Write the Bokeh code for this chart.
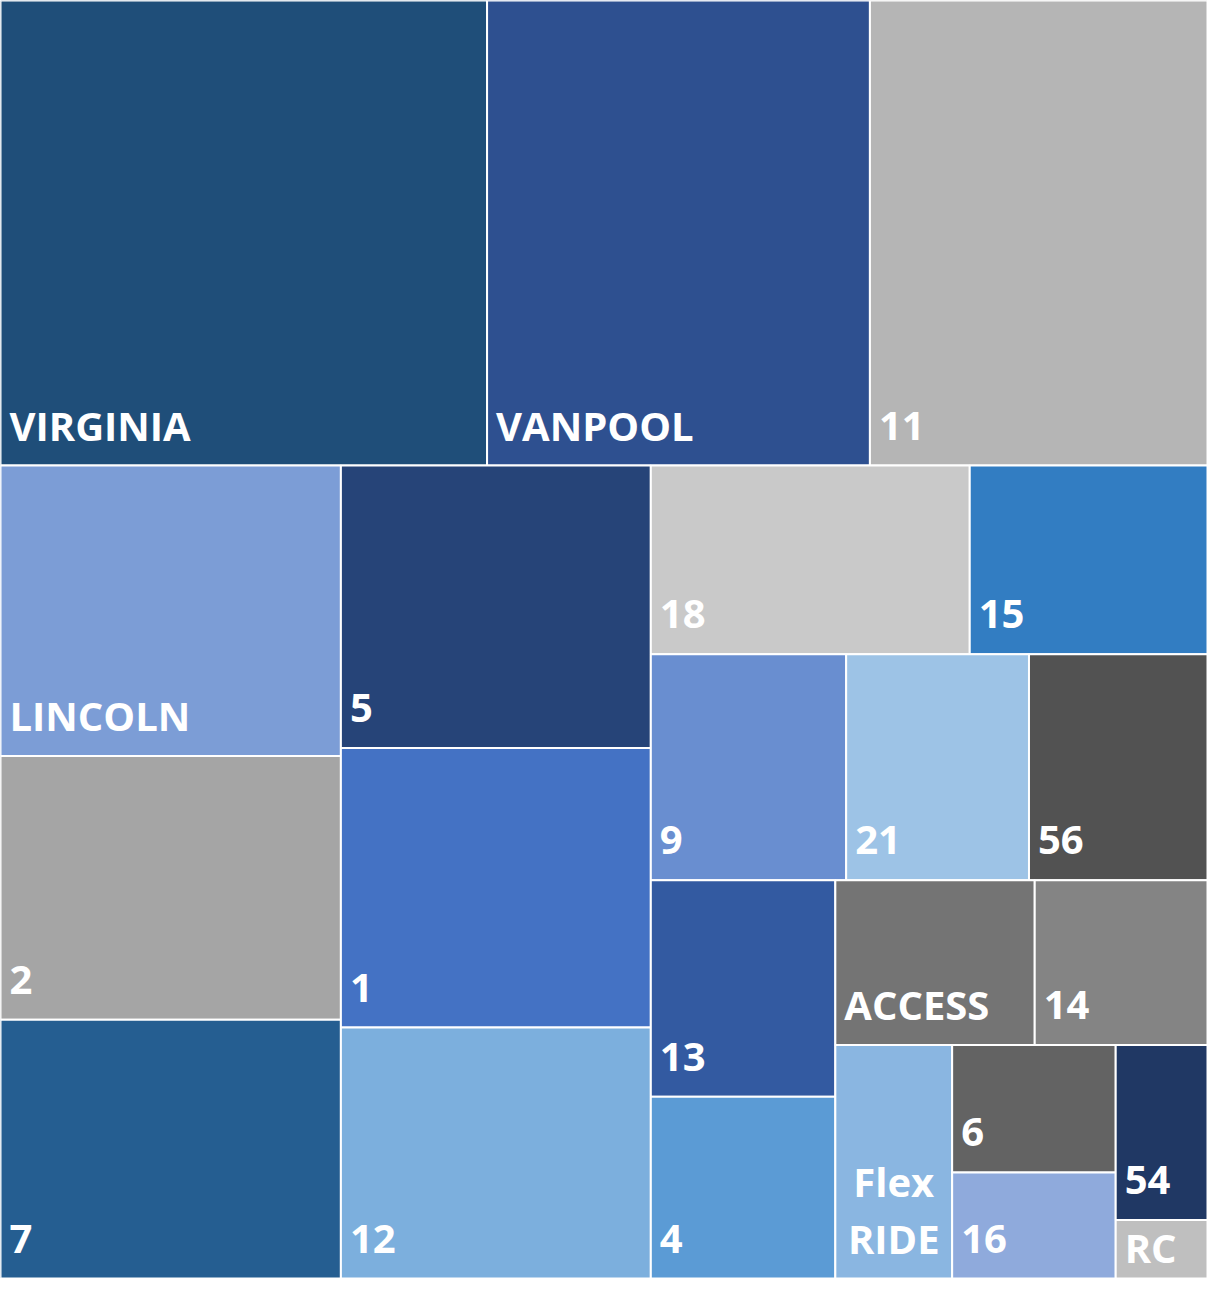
from bokeh.plotting import figure
from bokeh.models import Range1d, ColumnDataSource
from bokeh.embed import file_html
from bokeh.resources import INLINE
from bokeh.core.properties import value

# ---- data (ordered largest to smallest, as in the treemap) ----
labels = ["VIRGINIA", "VANPOOL", "11", "LINCOLN", "2", "7", "5", "1", "12",
          "18", "15", "9", "21", "56", "13", "4", "ACCESS", "14",
          "Flex\nRIDE", "6", "16", "54", "RC"]
values = [2322, 1827, 1611, 1014, 921, 904, 898, 889, 798,
          617, 460, 453, 424, 414, 410, 344, 337, 292,
          280, 214, 178, 165, 55]
colors = ["#1F4E79", "#2E5090", "#B5B5B5", "#7C9DD6", "#A5A5A5", "#255E91",
          "#264478", "#4472C4", "#7CAFDD", "#C9C9C9", "#327DC2", "#698ED0",
          "#9DC3E6", "#525252", "#335AA1", "#5B9BD5", "#747474", "#848484",
          "#8AB6E1", "#636363", "#8FAADC", "#203864", "#BFBFBF"]

W, H = 1207, 1278


def aspect(a, b):
    return max(a / b, b / a)


def last_ratio(row, w, h):
    side = min(w, h)
    thick = sum(row) / side
    length = row[-1] / thick
    return aspect(thick, length)


def place(row, x, y, w, h):
    out = []
    total = sum(row)
    if w <= h:
        rh = total / w
        cx = x
        for a in row:
            rw = a / rh
            out.append((cx, y, rw, rh))
            cx += rw
        return out, (x, y + rh, w, h - rh)
    rw = total / h
    cy = y
    for a in row:
        rh = a / rw
        out.append((x, cy, rw, rh))
        cy += rh
    return out, (x + rw, y, w - rw, h)


def treemap(areas, x, y, w, h):
    rects = []
    i, n = 0, len(areas)
    while i < n:
        row = [areas[i]]
        i += 1
        while i < n and last_ratio(row + [areas[i]], w, h) <= last_ratio(row, w, h):
            row.append(areas[i])
            i += 1
        r, (x, y, w, h) = place(row, x, y, w, h)
        rects += r
    return rects


tot = float(sum(values))
areas = [v / tot * W * H for v in values]
rects = treemap(areas, 0.0, 0.0, float(W), float(H))

src = ColumnDataSource(dict(
    left=[r[0] for r in rects],
    right=[r[0] + r[2] for r in rects],
    top=[r[1] for r in rects],
    bottom=[r[1] + r[3] for r in rects],
    color=colors,
))

p = figure(width=W, height=H, x_range=Range1d(0, W), y_range=Range1d(H, 0),
           output_backend="svg", toolbar_location=None, min_border=0)
p.axis.visible = False
p.grid.visible = False
p.outline_line_color = None
p.background_fill_color = "white"
p.border_fill_color = "white"

p.quad(left="left", right="right", top="top", bottom="bottom", source=src,
       fill_color="color", line_color="white", line_width=2)

# labels
tx, ty, tt, ta = [], [], [], []
LINE = 57
SHIFT = 17
for (x, y, w, h), lab in zip(rects, labels):
    lines = lab.split("\n")
    base = max(y + h - 23, y + 44) - SHIFT
    centered = len(lines) > 1
    for k, ln in enumerate(lines):
        tt.append(ln)
        ty.append(base - (len(lines) - 1 - k) * LINE)
        if centered:
            tx.append(x + w / 2)
            ta.append("center")
        else:
            tx.append(x + 9)
            ta.append("left")

lsrc = ColumnDataSource(dict(x=tx, y=ty, text=tt, align=ta))
p.text(x="x", y="y", text="text", source=lsrc, text_align="align",
       text_baseline="alphabetic", text_color="white",
       text_font=value("Open Sans"), text_font_style="bold",
       text_font_size="40px")

open("out.html", "w").write(file_html(p, INLINE))
